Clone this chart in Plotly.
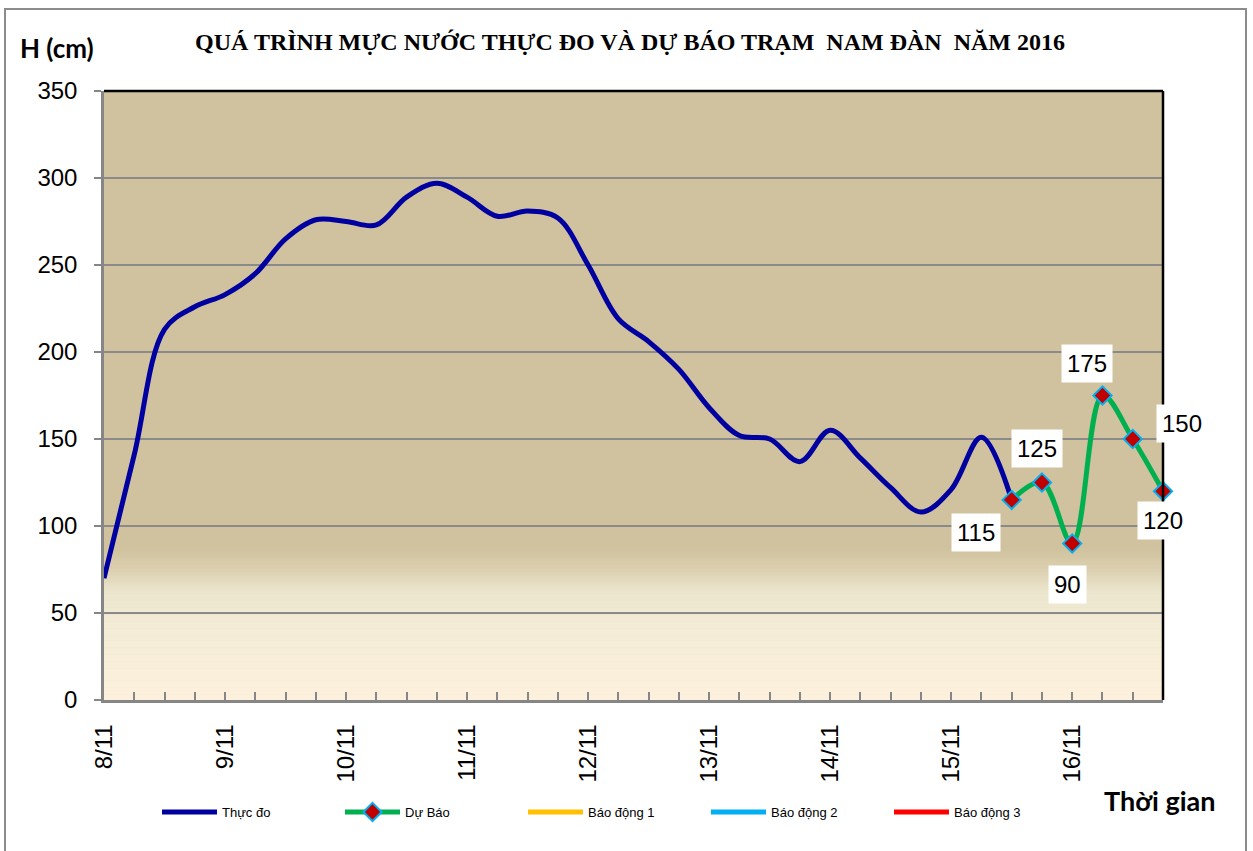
import plotly.graph_objects as go

# ---------------- data ----------------
day_labels = ["8/11", "9/11", "10/11", "11/11", "12/11", "13/11", "14/11", "15/11", "16/11"]
steps_per_day = 4  # 6-hourly observations

observed = [70, 141, 213, 226, 233, 245, 265, 276, 275, 273, 289, 297,
            289, 278, 281, 277, 250, 219, 206, 190, 168, 152, 150, 137,
            155, 139, 122, 108, 121, 151, 115]
forecast = [115, 125, 90, 175, 150, 120]
forecast_start = 30
alarm1 = []
alarm2 = []
alarm3 = []

obs_x = list(range(len(observed)))
fc_x = list(range(forecast_start, forecast_start + len(forecast)))
day_pos = [i * steps_per_day for i in range(len(day_labels))]

# ---------------- layout helpers ----------------
W_FIG, H_FIG = 1253, 851
L, R, T, B = 104, 1163, 91, 700


def px(x):
    return (x - L) / (R - L)


def py(y):
    return (B - y) / (B - T)


fig = go.Figure()

fig.add_trace(go.Scatter(
    x=obs_x, y=observed, name="Thực đo", mode="lines",
    line=dict(color="#0000A0", width=5, shape="spline", smoothing=1.0),
    cliponaxis=False,
))
fig.add_trace(go.Scatter(
    x=fc_x, y=forecast, name="Dự Báo", mode="lines+markers",
    line=dict(color="#00B050", width=5, shape="spline", smoothing=1.0),
    marker=dict(symbol="diamond", size=14, color="#C00000",
                line=dict(color="#00B0F0", width=2)),
    cliponaxis=False,
))
for nm, col, data in [("Báo động 1", "#FFC000", alarm1),
                      ("Báo động 2", "#00B0F0", alarm2),
                      ("Báo động 3", "#FF0000", alarm3)]:
    fig.add_trace(go.Scatter(
        x=[i for i, _ in enumerate(data)] or [None], y=data or [None],
        name=nm, mode="lines", line=dict(color=col, width=5),
    ))

# gradient at bottom of plot area
def hex2rgb(h):
    h = h.lstrip("#")
    return tuple(int(h[i:i + 2], 16) for i in (0, 2, 4))


stops = [(0, "#FDF1DD"), (40, "#F4ECD6"), (62, "#ECE6CF"), (74, "#DCD1B2"), (87, "#D0C29E")]


def color_at(v):
    for (v0, c0), (v1, c1) in zip(stops[:-1], stops[1:]):
        if v0 <= v <= v1:
            t = (v - v0) / (v1 - v0)
            a, b = hex2rgb(c0), hex2rgb(c1)
            return "rgb(%d,%d,%d)" % tuple(round(a[k] + (b[k] - a[k]) * t) for k in range(3))
    return stops[-1][1]


shapes = []
step = 1.0
v = 0.0
while v < 87:
    shapes.append(dict(type="rect", xref="paper", yref="y", x0=0, x1=1, y0=v, y1=v + step + 0.3,
                       fillcolor=color_at(v + step / 2), line=dict(width=0), layer="below"))
    v += step

# plot border: top and right dark
shapes.append(dict(type="line", xref="paper", yref="paper", x0=0, x1=1, y0=1, y1=1,
                   line=dict(color="#000000", width=2.5)))
shapes.append(dict(type="line", xref="paper", yref="paper", x0=1, x1=1, y0=0, y1=1,
                   line=dict(color="#000000", width=2.5)))
# outer chart border
shapes.append(dict(type="rect", xref="paper", yref="paper",
                   x0=px(5), x1=px(1246), y0=py(9), y1=py(860),
                   line=dict(color="#8C8C8C", width=2), fillcolor="rgba(0,0,0,0)"))

annotations = [
    dict(text="QUÁ TRÌNH MỰC NƯỚC THỰC ĐO VÀ DỰ BÁO TRẠM  NAM ĐÀN  NĂM 2016",
         x=px(630), y=py(42), xref="paper", yref="paper", showarrow=False,
         xanchor="center", yanchor="middle",
         font=dict(family="Liberation Serif", size=24, color="#000000", weight="bold")),
    dict(text="H (cm)", x=px(57), y=py(48), xref="paper", yref="paper", showarrow=False,
         xanchor="center", yanchor="middle",
         font=dict(family="Lato", size=26, color="#000000", weight="bold")),
    dict(text="Thời gian", x=px(1160), y=py(800), xref="paper", yref="paper", showarrow=False,
         xanchor="center", yanchor="middle",
         font=dict(family="Lato", size=27, color="#000000", weight="bold")),
]

label_shift = [(-36, -33), (-5, 34), (-5, -41), (-15, 32), (49, 16), (0, -29)]
for xv, yv, (dx, dy) in zip(fc_x, forecast, label_shift):
    annotations.append(dict(
        x=xv, y=yv, xref="x", yref="y", text=str(yv), showarrow=False,
        xanchor="center", yanchor="middle",
        xshift=dx, yshift=dy, bgcolor="#FFFFFF", borderpad=5,
        font=dict(family="Liberation Sans", size=24, color="#000000"),
    ))

fig.update_layout(
    width=W_FIG, height=H_FIG,
    margin=dict(l=L, r=W_FIG - R, t=T, b=H_FIG - B),
    paper_bgcolor="#FFFFFF", plot_bgcolor="#D0C29E",
    font=dict(family="Liberation Sans", color="#000000"),
    showlegend=True,
    legend=dict(orientation="h", x=px(157), y=py(812), xanchor="left", yanchor="middle",
                font=dict(family="Liberation Sans", size=13, color="#000000"),
                entrywidth=113, entrywidthmode="pixels", itemwidth=55,
                bgcolor="rgba(0,0,0,0)", traceorder="normal"),
    shapes=shapes, annotations=annotations,
)

fig.update_xaxes(
    range=[0, forecast_start + len(forecast) - 1], tickvals=day_pos, ticktext=day_labels,
    tickangle=-90, tickfont=dict(size=24, family="Liberation Sans"), ticklabelstandoff=12,
    ticks="inside", ticklen=8, tickcolor="#868686", tickwidth=2,
    minor=dict(dtick=1, tick0=0, ticks="inside", ticklen=8, tickcolor="#868686", tickwidth=2),
    showline=True, linecolor="#868686", linewidth=2.5,
    showgrid=False, zeroline=False,
)
fig.update_yaxes(
    range=[0, 350], dtick=50, tickfont=dict(size=24, family="Liberation Sans"),
    ticks="outside", ticklen=7, tickcolor="#868686", tickwidth=2, ticklabelstandoff=12,
    showline=True, linecolor="#868686", linewidth=2.5,
    showgrid=True, gridcolor="#8A8A8A", gridwidth=1.5, zeroline=False,
)

fig.write_html("out.html", config={"displayModeBar": False},
               post_script="document.body.style.margin='0px';")
